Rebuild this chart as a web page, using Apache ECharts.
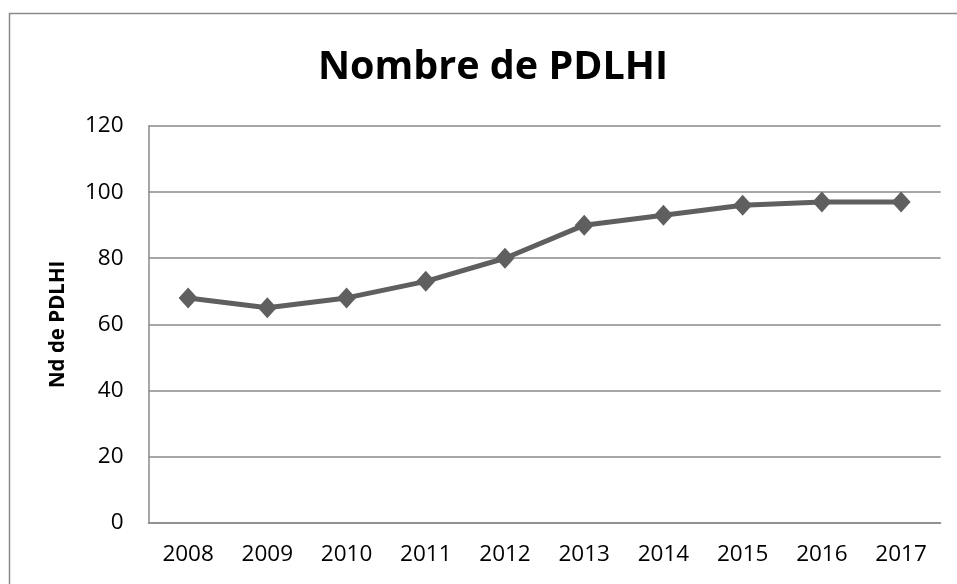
<!DOCTYPE html>
<html>
<head>
<meta charset="utf-8">
<script src="https://cdn.jsdelivr.net/npm/echarts@6/dist/echarts.min.js"></script>
<style>
  html, body { margin: 0; padding: 0; background: #ffffff; }
  #chart { width: 957px; height: 584px; }
</style>
</head>
<body>
<div id="chart"></div>
<script>
// Annual count of PDLHI, 2008–2017
const years = ['2008', '2009', '2010', '2011', '2012', '2013', '2014', '2015', '2016', '2017'];
const counts = [68, 65, 68, 73, 80, 90, 93, 96, 97, 97];
const yTicks = { min: 0, max: 120, interval: 20 };

const FONT = 'Open Sans';
const chart = echarts.init(document.getElementById('chart'), null, { renderer: 'canvas' });

chart.setOption({
  backgroundColor: '#ffffff',
  animation: false,
  title: {
    text: 'Nombre de PDLHI',
    left: 488,
    top: 43,
    textAlign: 'center',
    textStyle: { fontFamily: FONT, fontWeight: 'bold', fontSize: 39.5, color: '#000000' }
  },
  graphic: [{
    type: 'rect',
    shape: { x: 9.5, y: 13.5, width: 1000, height: 1000 },
    style: { fill: null, stroke: '#8a8a8a', lineWidth: 1.5 },
    silent: true
  }],
  grid: { left: 148.5, right: 16.3, top: 126, bottom: 61.3 },
  xAxis: {
    type: 'category',
    data: years,
    boundaryGap: true,
    axisLine: { show: true, lineStyle: { color: '#8a8a8a', width: 1.5 } },
    axisTick: { show: false },
    axisLabel: { fontFamily: FONT, fontSize: 22.5, color: '#000000', margin: 20 }
  },
  yAxis: {
    type: 'value',
    min: yTicks.min,
    max: yTicks.max,
    interval: yTicks.interval,
    name: 'Nd de PDLHI',
    nameLocation: 'middle',
    nameGap: 80,
    nameRotate: 90,
    nameTextStyle: { fontFamily: FONT, fontWeight: 'bold', fontSize: 20.5, color: '#000000' },
    axisLine: { show: true, lineStyle: { color: '#8a8a8a', width: 1.5 } },
    axisTick: { show: false },
    splitLine: { show: true, lineStyle: { color: '#8a8a8a', width: 1.5 } },
    axisLabel: { fontFamily: FONT, fontSize: 22.5, color: '#000000', margin: 25 }
  },
  series: [{
    type: 'line',
    data: counts,
    symbol: 'diamond',
    symbolSize: [19, 21],
    lineStyle: { color: '#5f5f5f', width: 5 },
    itemStyle: { color: '#5f5f5f' }
  }]
});
</script>
</body>
</html>
